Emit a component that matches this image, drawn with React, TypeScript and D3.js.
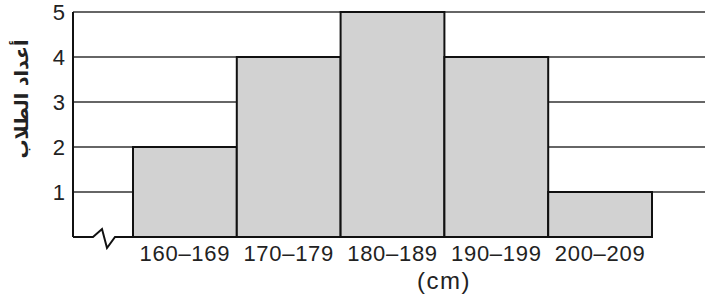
import React from 'react';
import * as d3 from 'd3';

const categories = ['160–169', '170–179', '180–189', '190–199', '200–209'];
const counts = [2, 4, 5, 4, 1];
const yTicks = [1, 2, 3, 4, 5];
const yTitle = 'أعداد الطلاب';
const xTitle = '(cm)';

const W = 705;
const H = 299;
const axisX = 73;
const gridRight = 705;

const App = () => {
  const x = d3.scaleBand<string>().domain(categories).range([133, 652]).paddingInner(0).paddingOuter(0);
  const y = d3.scaleLinear().domain([0, 5]).range([237, 12]);
  const base = y(0);

  // broken-axis zigzag
  const zig = d3.line()([
    [axisX, base],
    [93, base],
    [102, base - 8],
    [107, base + 11],
    [115, base],
    [x(categories[0]) as number, base],
  ]);

  return (
    <svg width={W} height={H} style={{ position: 'absolute', left: 0, top: 0 }} fontFamily="'Liberation Sans', Arial, sans-serif">
      <rect width={W} height={H} fill="#fff" />
      {yTicks.map((t) => (
        <line key={t} x1={axisX} x2={gridRight} y1={y(t)} y2={y(t)} stroke="#333" strokeWidth={1.3} />
      ))}
      {categories.map((c, i) => (
        <rect
          key={c}
          x={x(c)}
          y={y(counts[i])}
          width={x.bandwidth()}
          height={base - y(counts[i])}
          fill="#d2d2d2"
          stroke="#111"
          strokeWidth={2}
        />
      ))}
      <line x1={axisX} x2={axisX} y1={y(5)} y2={base} stroke="#111" strokeWidth={2} />
      <path d={zig || ''} fill="none" stroke="#111" strokeWidth={2} />
      {yTicks.map((t) => (
        <text key={t} x={65} y={y(t) + 8} textAnchor="end" fontSize={22} fill="#222">
          {t}
        </text>
      ))}
      {categories.map((c) => (
        <text
          key={c}
          x={(x(c) as number) + x.bandwidth() / 2}
          y={261}
          textAnchor="middle"
          fontSize={22}
          letterSpacing={0.7}
          fill="#222"
        >
          {c}
        </text>
      ))}
      <text x={444} y={289} textAnchor="middle" fontSize={24} letterSpacing={1.5} fill="#222">
        {xTitle}
      </text>
      <text
        transform={`translate(28, 99) rotate(-90)`}
        textAnchor="middle"
        fontSize={19}
        fontWeight="bold"
        fill="#222"
        fontFamily="'DejaVu Sans', 'Noto Sans', sans-serif"
      >
        {yTitle}
      </text>
    </svg>
  );
};

export default App;
